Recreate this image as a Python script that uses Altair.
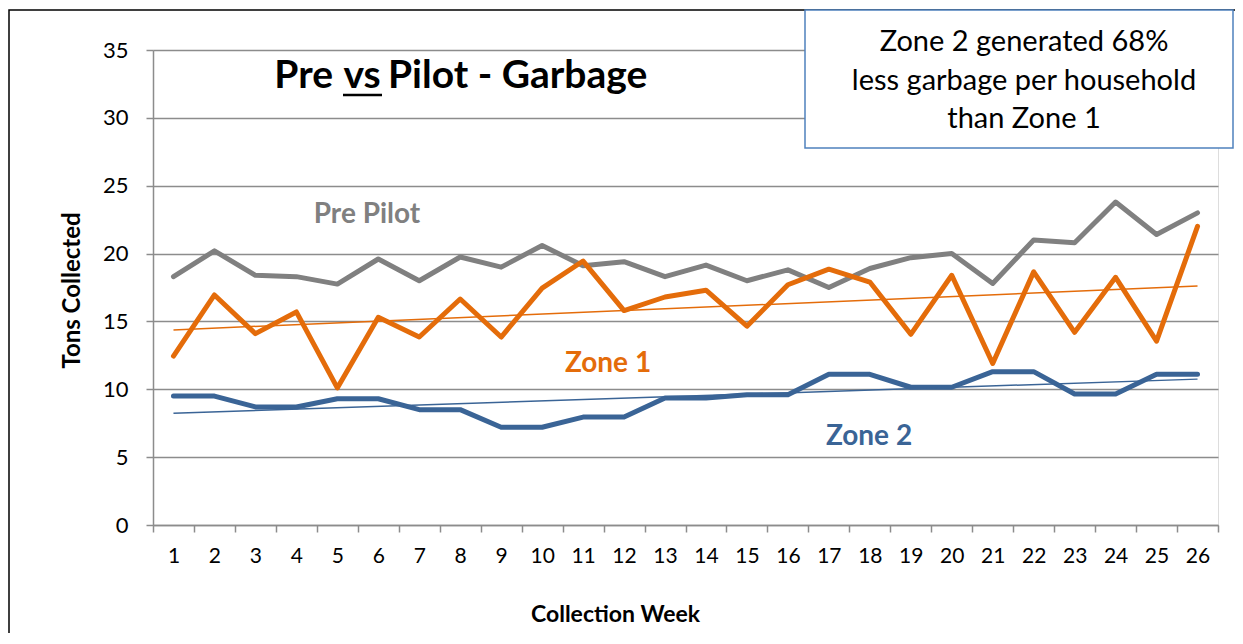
import altair as alt
import pandas as pd

weeks = list(range(1, 27))
pre_pilot = [18.3, 20.2, 18.4, 18.3, 17.75, 19.6, 18.0, 19.75, 19.0, 20.6, 19.1, 19.4, 18.3,
             19.15, 18.0, 18.8, 17.5, 18.9, 19.7, 20.0, 17.8, 21.0, 20.8, 23.8, 21.4, 23.0]
zone1 = [12.45, 16.95, 14.1, 15.7, 10.1, 15.3, 13.85, 16.65, 13.85, 17.45, 19.45, 15.8, 16.8,
         17.3, 14.65, 17.7, 18.85, 17.9, 14.05, 18.4, 11.9, 18.65, 14.2, 18.25, 13.55, 22.0]
zone2 = [9.5, 9.5, 8.7, 8.7, 9.3, 9.3, 8.5, 8.5, 7.2, 7.2, 7.95, 7.95, 9.35,
         9.35, 9.6, 9.6, 11.1, 11.1, 10.15, 10.15, 11.3, 11.3, 9.65, 9.65, 11.1, 11.1]
series_names = ["Pre Pilot", "Zone 1", "Zone 2"]
series_colors = ["#808080", "#E46C0A", "#3A6496"]
y_ticks = [0, 5, 10, 15, 20, 25, 30, 35]

rows = []
for name, vals in zip(series_names, [pre_pilot, zone1, zone2]):
    for w, v in zip(weeks, vals):
        rows.append({"week": w, "value": v, "series": name})
df = pd.DataFrame(rows)

FONT = "Lato"
GRAY = "#8C8C8C"

x_enc = alt.X(
    "week:O",
    scale=alt.Scale(type="band", domain=weeks, paddingInner=0, paddingOuter=0),
    axis=alt.Axis(
        title="Collection Week", labelAngle=0, grid=False, tickBand="extent",
        tickSize=7, labelPadding=13, labelFontSize=21, labelFont=FONT, labelColor="#000000",
        titleFontSize=23, titleFont=FONT, titleFontWeight="bold", titleColor="#000000",
        titleX=462, titleY=96, titleBaseline="alphabetic", titleAnchor="middle", titleAlign="center",
        domainColor=GRAY, domainWidth=1.5, tickColor=GRAY, tickWidth=1.5,
    ),
)
y_enc = alt.Y(
    "value:Q",
    scale=alt.Scale(domain=[0, 35], nice=False, zero=True),
    axis=alt.Axis(
        title="Tons Collected", values=y_ticks, grid=True, gridColor=GRAY, gridWidth=1.5,
        tickSize=7, labelPadding=18, labelFontSize=22, labelFont=FONT, labelColor="#000000",
        titleFontSize=24, titleFont=FONT, titleFontWeight="bold", titleColor="#000000",
        titleAngle=270, titleX=-81, titleY=240, titleBaseline="middle", titleAlign="center",
        domainColor=GRAY, domainWidth=1.5, tickColor=GRAY, tickWidth=1.5,
    ),
)
color_enc = alt.Color("series:N", scale=alt.Scale(domain=series_names, range=series_colors), legend=None)

frame = alt.Chart(pd.DataFrame({"k": [0]})).mark_rect(
    fill=None, stroke="#000000", strokeWidth=1.5
).encode(x=alt.value(-144), x2=alt.value(1400), y=alt.value(-40), y2=alt.value(700))

lines = alt.Chart(df).mark_line(strokeWidth=5, strokeCap="round", strokeJoin="round").encode(
    x=x_enc, y=y_enc, color=color_enc
)

trend = alt.Chart(df).transform_filter(
    alt.datum.series != "Pre Pilot"
).transform_regression("week", "value", groupby=["series"]).mark_line(strokeWidth=1.5).encode(
    x=alt.X("week:O"), y=alt.Y("value:Q"), color=color_enc
)

one = pd.DataFrame({"k": [0]})

def label(txt, x, y, size, color, weight="bold", align="center"):
    return alt.Chart(one).mark_text(
        text=txt, font=FONT, fontSize=size, fontWeight=weight, color=color,
        align=align, baseline="alphabetic"
    ).encode(x=alt.value(x), y=alt.value(y))

title_pre = label("Pre", 180, 38, 39, "#000000", align="right")
title_vs = label("vs", 209, 38, 39, "#000000", align="center")
title_rest = label("Pilot - Garbage", 235, 38, 39, "#000000", align="left")
underline = alt.Chart(one).mark_rule(color="#000000", strokeWidth=2.5).encode(
    x=alt.value(190), x2=alt.value(229), y=alt.value(45)
)

lab_pre = label("Pre Pilot", 214, 173, 28, series_colors[0])
lab_z1 = label("Zone 1", 455, 322, 28, series_colors[1])
lab_z2 = label("Zone 2", 716, 395, 28, series_colors[2])

box = alt.Chart(one).mark_rect(fill="#FFFFFF", stroke="#4F81BD", strokeWidth=1.5).encode(
    x=alt.value(652), x2=alt.value(1080), y=alt.value(-40), y2=alt.value(98)
)
box_text = alt.Chart(one).mark_text(
    text=["Zone 2 generated 68%", "less garbage per household", "than Zone 1"],
    font=FONT, fontSize=29, color="#000000", align="center", baseline="alphabetic", lineHeight=38.5
).encode(x=alt.value(871), y=alt.value(1))

chart = alt.layer(
    frame, lines, trend, title_pre, title_vs, title_rest, underline,
    lab_pre, lab_z1, lab_z2, box, box_text
).properties(
    width=1065, height=475, autosize="none",
    padding={"left": 145, "top": 42, "right": 17, "bottom": 108},
).configure_view(stroke=None).configure(background="#FFFFFF")

chart.save("out.html", embed_options={"renderer": "svg", "actions": False})
